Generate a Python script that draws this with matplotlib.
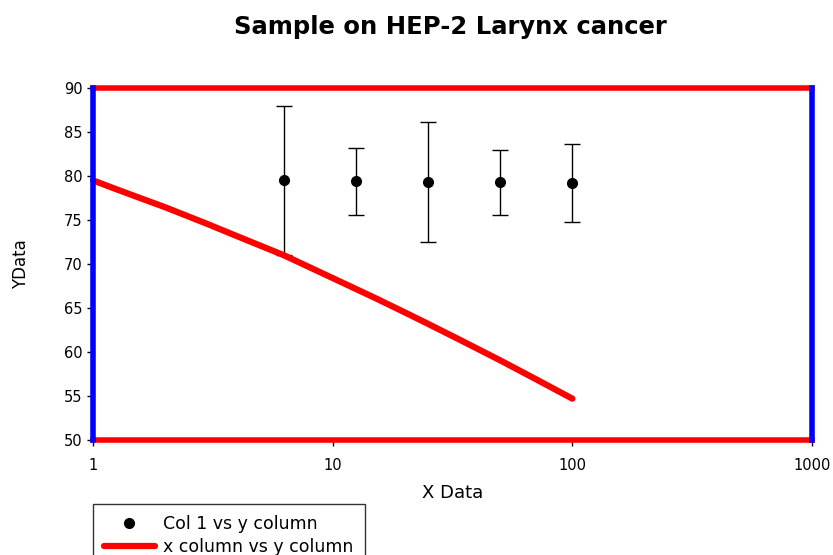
import matplotlib

matplotlib.use("Agg")
import matplotlib.pyplot as plt
from matplotlib.lines import Line2D

plt.rcParams["font.family"] = ["DejaVu Sans"]

# error-bar series (Col 1 vs y column)
dose_x = [6.25, 12.5, 25, 50, 100]
mean_y = [79.5, 79.4, 79.35, 79.3, 79.2]
err_y = [8.5, 3.8, 6.8, 3.7, 4.4]

# fitted curve (x column vs y column)
curve_x = [1, 1.25, 1.5, 2, 3, 4, 6.25, 10, 15, 20, 25, 35, 50, 70, 100]
curve_y = [79.5, 78.5, 77.7, 76.45, 74.55, 73.15, 71.0, 68.4, 66.15, 64.5, 63.2, 61.2, 59.05, 56.95, 54.7]

x_ticks = [1, 10, 100, 1000]
x_ticklabels = ["1", "10", "100", "1000"]
y_ticks = [50, 55, 60, 65, 70, 75, 80, 85, 90]

fig = plt.figure(figsize=(8.33, 5.55), dpi=100)
ax = fig.add_axes([93 / 833, 1 - 440 / 555, (812 - 93) / 833, (440 - 88) / 555])

ax.errorbar(dose_x, mean_y, yerr=err_y, fmt="o", color="black", ms=7,
            elinewidth=1, capsize=6, capthick=1, zorder=3)
ax.plot(curve_x, curve_y, color="red", lw=4.5, solid_capstyle="round",
        zorder=4, clip_on=False)

ax.set_xscale("log")
ax.set_xlim(1, 1000)
ax.set_ylim(50, 90)
ax.set_xticks(x_ticks)
ax.set_xticklabels(x_ticklabels)
ax.xaxis.set_minor_locator(matplotlib.ticker.NullLocator())
ax.set_yticks(y_ticks)
ax.tick_params(axis="both", labelsize=10.5, length=4, width=1, direction="out")
ax.tick_params(axis="x", pad=9)

for side in ["top", "bottom"]:
    ax.spines[side].set_color("red")
    ax.spines[side].set_linewidth(4)
for side in ["left", "right"]:
    ax.spines[side].set_color("blue")
    ax.spines[side].set_linewidth(4)
    ax.spines[side].set_zorder(5)

ax.set_xlabel("X Data", fontsize=13, labelpad=8)
ax.set_ylabel("YData", fontsize=12, labelpad=24)
fig.suptitle("Sample on HEP-2 Larynx cancer", fontsize=17.5, fontweight="bold",
             x=450 / 833, y=1 - 27 / 555, va="center")

handles = [
    Line2D([], [], ls="none", marker="o", color="black", ms=7),
    Line2D([], [], color="red", lw=4.5, solid_capstyle="round"),
]
labels = ["Col 1 vs y column", "x column vs y column"]
leg = fig.legend(handles, labels, loc="upper left", bbox_to_anchor=(93 / 833, 1 - 504 / 555),
                 borderaxespad=0, fontsize=12.5, frameon=True, fancybox=False,
                 edgecolor="black", handlelength=2.9, handletextpad=0.5,
                 borderpad=0.65, labelspacing=0.3)
leg.get_frame().set_linewidth(1)

fig.savefig("out.png", dpi=100)
